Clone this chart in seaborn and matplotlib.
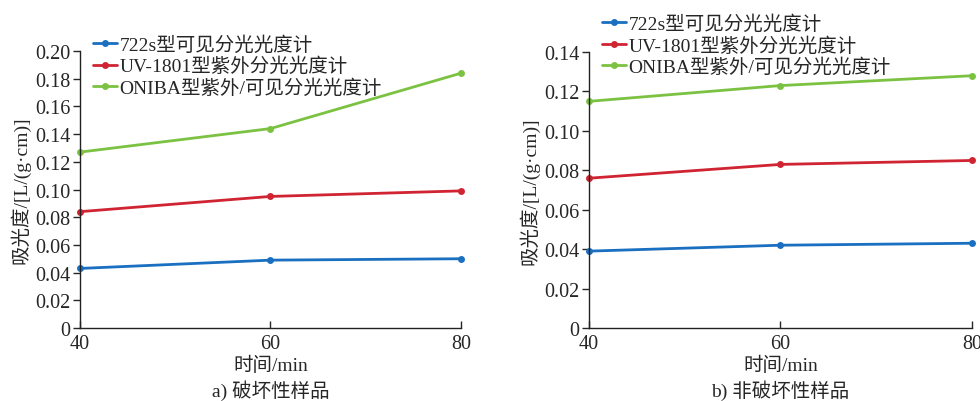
import numpy as np
import pandas as pd
import matplotlib
matplotlib.use("Agg")
import matplotlib.pyplot as plt
import seaborn as sns

# Measurement times (min)
times = [40, 60, 80]

# Instrument names (legend labels)
instruments = ["722s型可见分光光度计", "UV-1801型紫外分光光度计", "ONIBA型紫外/可见分光光度计"]

# Absorbance for destructive samples
destr_722s = [0.043, 0.049, 0.050]
destr_uv1801 = [0.084, 0.095, 0.099]
destr_oniba = [0.127, 0.144, 0.184]

# Absorbance for non-destructive samples
nondestr_722s = [0.039, 0.042, 0.043]
nondestr_uv1801 = [0.076, 0.083, 0.085]
nondestr_oniba = [0.115, 0.123, 0.128]

x_ticks = [40, 60, 80]
y_ticks_a = [0, 0.02, 0.04, 0.06, 0.08, 0.10, 0.12, 0.14, 0.16, 0.18, 0.20]
y_ticks_b = [0, 0.02, 0.04, 0.06, 0.08, 0.10, 0.12, 0.14]
y_tick_labels_a = ["0", "0.02", "0.04", "0.06", "0.08", "0.10", "0.12", "0.14", "0.16", "0.18", "0.20"]
y_tick_labels_b = ["0", "0.02", "0.04", "0.06", "0.08", "0.10", "0.12", "0.14"]

captions = ["a) 破坏性样品", "b) 非破坏性样品"]
x_label = "时间/min"
y_label = "吸光度/[L/(g·cm)]"

palette = ["#1a6fc0", "#d02432", "#7cc242"]


def long_form(series):
    rows = []
    for name, vals in zip(instruments, series):
        for t, v in zip(times, vals):
            rows.append({"time": t, "value": v, "instrument": name})
    return pd.DataFrame(rows)


df_a = long_form([destr_722s, destr_uv1801, destr_oniba])
df_b = long_form([nondestr_722s, nondestr_uv1801, nondestr_oniba])

sns.set_theme(style="ticks")
plt.rcParams["font.family"] = ["Liberation Serif", "Noto Sans CJK SC"]
plt.rcParams["axes.unicode_minus"] = False

fig = plt.figure(figsize=(9.8, 4.02), dpi=100)
ax_a = fig.add_axes([0.0816, 0.1816, 0.3888, 0.689])
ax_b = fig.add_axes([0.601, 0.1816, 0.3908, 0.6864])

fs_tick = 14.5
fs_text = 14

for ax, df, yt, ytl, ymax, cap, leg_anchor in [
    (ax_a, df_a, y_ticks_a, y_tick_labels_a, 0.20, captions[0], (0.035, 1.055)),
    (ax_b, df_b, y_ticks_b, y_tick_labels_b, 0.14, captions[1], (0.035, 1.135)),
]:
    sns.lineplot(data=df, x="time", y="value", hue="instrument",
                 hue_order=instruments, palette=palette, marker="o",
                 markersize=5, markeredgewidth=0, linewidth=2.0, ax=ax)
    ax.set_xlim(40, 80)
    ax.set_ylim(0, ymax)
    ax.set_xticks(x_ticks)
    ax.set_xticklabels([str(t) for t in x_ticks], fontsize=fs_tick)
    ax.set_yticks(yt)
    ax.set_yticklabels(ytl, fontsize=fs_tick)
    ax.tick_params(axis="x", direction="in", length=5, width=1, pad=4)
    ax.tick_params(axis="y", direction="out", length=5, width=1, pad=2)
    for side in ["top", "right"]:
        ax.spines[side].set_visible(False)
    for side in ["left", "bottom"]:
        ax.spines[side].set_linewidth(1.0)
        ax.spines[side].set_color("#222222")
    ax.set_xlabel(x_label, fontsize=fs_text, labelpad=2)
    ax.set_ylabel(y_label, fontsize=fs_text, labelpad=3)
    for m in ax.lines:
        m.set_clip_on(False)
    ax.legend(loc="upper left", bbox_to_anchor=leg_anchor, frameon=False,
              fontsize=fs_text, handlelength=1.2, handletextpad=0.15,
              labelspacing=0.14, borderaxespad=0, borderpad=0)
    ax.text(0.5, -0.222, cap, transform=ax.transAxes, ha="center", va="center",
            fontsize=fs_text)

fig.savefig("out.png", dpi=100)
